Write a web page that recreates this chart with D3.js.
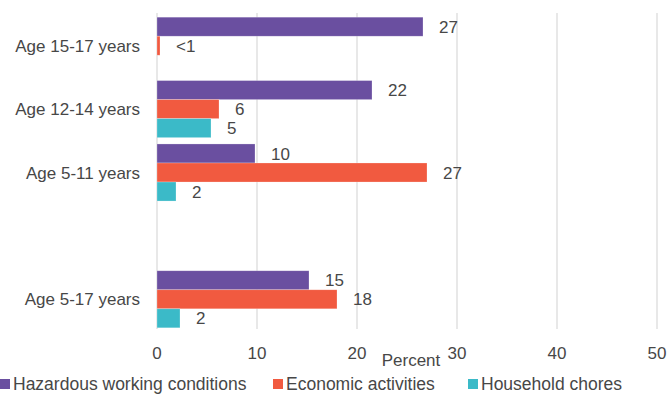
<!DOCTYPE html>
<html>
<head>
    <script src="https://d3js.org/d3.v7.min.js"></script>
    <style>
        body { margin: 0; background: #fff; }
        text { font-family: "Liberation Sans", Arial, sans-serif; fill: #474747; }
    </style>
</head>
<body>
    <svg width="669" height="394"></svg>

    <script>
        // Categories (the blank one is the gap before the overall group)
        const categories = ["Age 15-17 years", "Age 12-14 years", "Age 5-11 years", "", "Age 5-17 years"];
        const seriesNames = ["Hazardous working conditions", "Economic activities", "Household chores"];
        const seriesColors = ["#6a4fa0", "#f15a40", "#3bbac8"];

        const hazardous = [26.6, 21.5, 9.8, null, 15.2];
        const economic = [0.3, 6.2, 27.0, null, 18.0];
        const household = [null, 5.4, 1.9, null, 2.3];
        const hazardousLabels = ["27", "22", "10", "", "15"];
        const economicLabels = ["<1", "6", "27", "", "18"];
        const householdLabels = ["", "5", "2", "", "2"];
        const xTicks = [0, 10, 20, 30, 40, 50];

        const values = [hazardous, economic, household];
        const labels = [hazardousLabels, economicLabels, householdLabels];

        const data = [];
        categories.forEach((c, i) => {
            values.forEach((vals, s) => {
                if (vals[i] != null) {
                    data.push({ cat: c, series: s, value: vals[i], label: labels[s][i] });
                }
            });
        });

        const svg = d3.select("svg");

        const x = d3.scaleLinear().domain([0, 50]).range([157, 657]);
        const y = d3.scaleBand().domain(categories).range([14, 331])
            .paddingInner(0.1).paddingOuter(0.05);
        const ySub = d3.scaleBand().domain([0, 1, 2]).range([0, y.bandwidth()]);

        // gridlines
        svg.append("g")
            .selectAll("line")
            .data(xTicks)
            .enter()
            .append("line")
            .attr("x1", d => x(d))
            .attr("x2", d => x(d))
            .attr("y1", 13)
            .attr("y2", 329)
            .attr("stroke", "#d9d9d9")
            .attr("stroke-width", 1.2);

        // bars
        svg.append("g")
            .selectAll("rect")
            .data(data)
            .enter()
            .append("rect")
            .attr("x", x(0))
            .attr("y", d => y(d.cat) + ySub(d.series))
            .attr("width", d => x(d.value) - x(0))
            .attr("height", ySub.bandwidth())
            .attr("fill", d => seriesColors[d.series])
            .attr("stroke", "#fff")
            .attr("stroke-opacity", 0.4)
            .attr("stroke-width", 0.6);

        // value labels
        svg.append("g")
            .selectAll("text")
            .data(data.filter(d => d.label))
            .enter()
            .append("text")
            .attr("x", d => x(d.value) + 16)
            .attr("y", d => y(d.cat) + ySub(d.series) + ySub.bandwidth() / 2)
            .attr("dy", "0.36em")
            .attr("font-size", "17px")
            .text(d => d.label);

        // category labels
        svg.append("g")
            .selectAll("text")
            .data(categories.filter(c => c))
            .enter()
            .append("text")
            .attr("x", 140)
            .attr("y", d => y(d) + y.bandwidth() / 2)
            .attr("dy", "0.36em")
            .attr("text-anchor", "end")
            .attr("font-size", "17px")
            .text(d => d);

        // x tick labels
        svg.append("g")
            .selectAll("text")
            .data(xTicks)
            .enter()
            .append("text")
            .attr("x", d => x(d))
            .attr("y", 359)
            .attr("text-anchor", "middle")
            .attr("font-size", "17px")
            .text(d => d);

        svg.append("text")
            .attr("x", 411)
            .attr("y", 366)
            .attr("text-anchor", "middle")
            .attr("font-size", "17px")
            .text("Percent");

        // legend (kept just inside the bottom edge)
        const legendX = [0, 273, 468];
        const legend = svg.append("g")
            .selectAll("g")
            .data(seriesNames)
            .enter()
            .append("g")
            .attr("transform", (d, i) => `translate(${legendX[i]},379)`);
        legend.append("rect")
            .attr("width", 10)
            .attr("height", 10)
            .attr("fill", (d, i) => seriesColors[i]);
        legend.append("text")
            .attr("x", 13)
            .attr("y", 10.5)
            .attr("font-size", "17.5px")
            .text(d => d);
    </script>
</body>
</html>
